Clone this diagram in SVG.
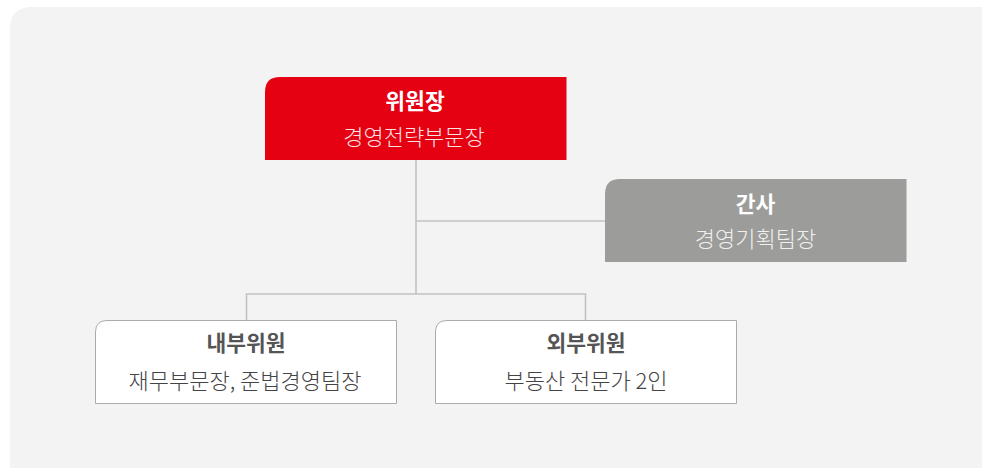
<svg xmlns="http://www.w3.org/2000/svg" width="982" height="468" viewBox="0 0 982 468">
<style>
.t{font-family:"Noto Sans CJK KR","Noto Sans",sans-serif;text-anchor:middle}
.b{font-weight:700;font-size:21.5px}
.l{font-weight:300;font-size:22px}
.ln{stroke:#c2c2c2;stroke-width:1.6;fill:none}
.wb{fill:#ffffff;stroke:#ababab;stroke-width:1}
</style>
<rect width="982" height="468" fill="#ffffff"/>
<path d="M10,468 V29 Q10,7 32,7 H982 V468 Z" fill="#f3f3f3"/>
<g id="connectors">
<path class="ln" d="M416,160 V294"/>
<path class="ln" d="M416,221 H605"/>
<path class="ln" d="M246.5,320 V294 H585.5 V320"/>
</g>
<g id="chair">
<path d="M265,160 V92 Q265,77 280,77 H566.5 V160 Z" fill="#e50012"/>
<text class="t b" x="415" y="109" fill="#ffffff">위원장</text>
<text class="t l" x="414" y="144.5" fill="#fbe0e2">경영전략부문장</text>
</g>
<g id="secretary">
<path d="M605,262 V194 Q605,179 620,179 H906.5 V262 Z" fill="#9c9d9a"/>
<text class="t b" x="755.5" y="211.5" fill="#ffffff">간사</text>
<text class="t l" x="755.5" y="247" fill="#f0f0f0">경영기획팀장</text>
</g>
<g id="internal">
<path class="wb" d="M95.5,403.5 V332 Q95.5,320.5 107,320.5 H396.5 V403.5 Z"/>
<text class="t b" x="246" y="351" fill="#555555">내부위원</text>
<text class="t l" x="245" y="388.5" fill="#444444">재무부문장, 준법경영팀장</text>
</g>
<g id="external">
<path class="wb" d="M435.5,403.5 V332 Q435.5,320.5 447,320.5 H736.5 V403.5 Z"/>
<text class="t b" x="586" y="351" fill="#555555">외부위원</text>
<text class="t l" x="586" y="388.5" fill="#444444">부동산 전문가 2인</text>
</g>
</svg>
